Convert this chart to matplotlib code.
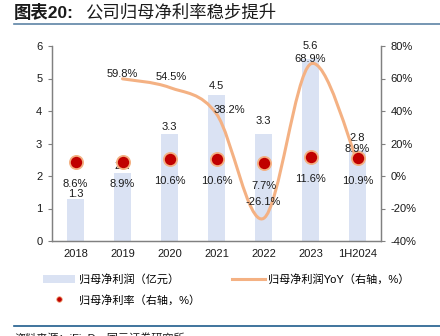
import matplotlib
matplotlib.use("Agg")
import matplotlib.pyplot as plt
import numpy as np
from matplotlib.path import Path
from matplotlib.patches import PathPatch, Patch
from matplotlib.lines import Line2D

plt.rcParams["font.family"] = ["Liberation Sans", "Noto Sans CJK SC"]

# data
periods = ["2018", "2019", "2020", "2021", "2022", "2023", "1H2024"]
profit = [1.3, 2.1, 3.3, 4.5, 3.3, 5.6, 2.8]            # 亿元
yoy = [None, 59.8, 54.5, 38.2, -26.1, 68.9, 8.9]         # %
margin = [8.6, 8.9, 10.6, 10.6, 7.7, 11.6, 10.9]         # %

# label offsets (points), purely layout
bar_lbl_dy = [0, 1, 1, 3, 5.5, 5.5, 4.7]
yoy_lbl_off = [(0, 0), (0, 0), (1, 4), (9.5, -0.5), (0, 8), (0, 0), (0, 5.5)]

BAR = "#DAE2F3"
LINE = "#F4B183"
DOT = "#C00000"
AXC = "#808080"

fig = plt.figure(figsize=(4.4, 3.36), dpi=100)
ax = fig.add_axes([52 / 440, 1 - 241 / 336, 329 / 440, 195 / 336])
ax2 = ax.twinx()

x = np.arange(len(periods))
ax.bar(x, profit, width=0.36, color=BAR, zorder=1)
ax.set_xlim(-0.5, len(periods) - 0.5)
ax.set_ylim(0, 6)
ax.set_yticks(range(0, 7))
ax.set_xticks(x)
ax.set_xticklabels(periods)

for xi, v, dy in zip(x, profit, bar_lbl_dy):
    ax.annotate(f"{v:.1f}", (xi, v), xytext=(0, dy), textcoords="offset points",
                ha="center", va="bottom", fontsize=8, color="#1a1a1a")

# smoothed YoY line (Bezier through data points, Excel-style smoothing)
pts = np.array([(xi, v) for xi, v in zip(x, yoy) if v is not None], dtype=float)
verts = [tuple(pts[0])]
codes = [Path.MOVETO]
n = len(pts)
for i in range(n - 1):
    p0 = pts[i - 1] if i > 0 else pts[i]
    p1 = pts[i]
    p2 = pts[i + 1]
    p3 = pts[i + 2] if i + 2 < n else pts[i + 1]
    c1 = p1 + (p2 - p0) / 6.0
    c2 = p2 - (p3 - p1) / 6.0
    verts += [tuple(c1), tuple(c2), tuple(p2)]
    codes += [Path.CURVE4] * 3
ax2.add_patch(PathPatch(Path(verts, codes), facecolor="none", edgecolor=LINE,
                        lw=2.2, capstyle="round", zorder=2))

ax2.plot(x, margin, ls="none", marker="o", ms=9.5, mfc=DOT, mec=LINE, mew=1.3,
         zorder=3)

ax2.set_ylim(-40, 80)
ax2.set_yticks(range(-40, 81, 20))
ax2.set_yticklabels([f"{t}%" for t in range(-40, 81, 20)])

for xi, v, off in zip(x, yoy, yoy_lbl_off):
    if v is None:
        continue
    ax2.annotate(f"{v:.1f}%", (xi, v), xytext=off, textcoords="offset points",
                 ha="center", va="bottom", fontsize=8, color="#1a1a1a", zorder=4)

for xi, v in zip(x, margin):
    ax2.annotate(f"{v:.1f}%", (xi, v), xytext=(0, -16), textcoords="offset points",
                 ha="center", va="center", fontsize=8, color="#1a1a1a", zorder=4)

for a in (ax, ax2):
    a.spines["top"].set_visible(False)
    for s in ("left", "right", "bottom"):
        a.spines[s].set_color(AXC)
        a.spines[s].set_linewidth(0.9)
    a.tick_params(axis="y", length=3, width=0.8, color=AXC, labelsize=8,
                  labelcolor="#1a1a1a", pad=4)
ax.tick_params(axis="x", length=0, labelsize=8, labelcolor="#1a1a1a", pad=6)

# legend
handles = [
    Patch(facecolor=BAR, edgecolor="none"),
    Line2D([], [], ls="none", marker="o", ms=4, mfc=DOT, mec=LINE, mew=0.6),
    Line2D([], [], color=LINE, lw=2.2),
]
labels = ["归母净利润（亿元）", "归母净利率（右轴，%）", "归母净利润YoY（右轴，%）"]
fig.legend(handles, labels, ncol=2, loc="upper left",
           bbox_to_anchor=(43 / 440, 1 - 274 / 336), frameon=False, fontsize=8,
           handlelength=2.9, handleheight=0.8, handletextpad=0.3,
           columnspacing=2.95, labelspacing=0.85, borderpad=0, borderaxespad=0)

# title and rules
fig.text(14 / 440, 1 - 12 / 336, "图表20:", fontsize=12.5,
         fontweight="bold", ha="left", va="center", color="#1a1a1a")
fig.text(85 / 440, 1 - 12 / 336, "公司归母净利率稳步提升", fontsize=12.5,
         ha="left", va="center", color="#1a1a1a")
fig.add_artist(Line2D([14 / 440, 1], [1 - 24 / 336] * 2, color="#5E84A6", lw=1.2))
fig.add_artist(Line2D([14 / 440, 1], [1 - 325.5 / 336] * 2, color="#1F5C8C", lw=1.2))
fig.text(14 / 440, 1 - 332.5 / 336, "资料来源：iFinD，国元证券研究所", fontsize=8,
         ha="left", va="top", color="#1a1a1a")

fig.savefig("out.png", dpi=100)
